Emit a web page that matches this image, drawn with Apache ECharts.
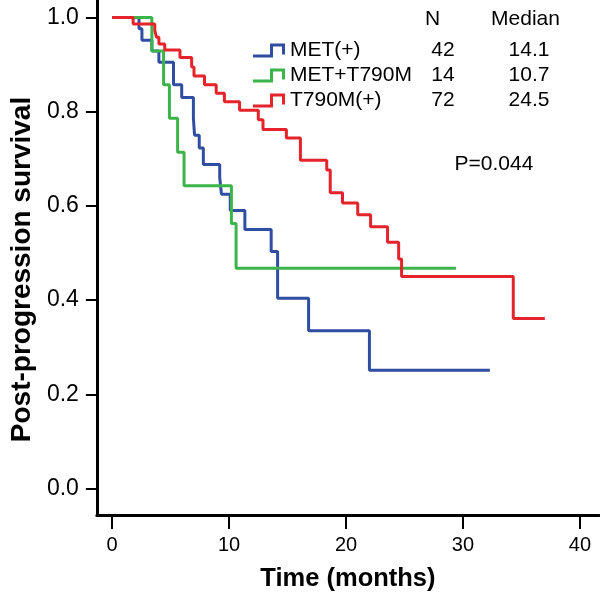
<!DOCTYPE html>
<html>
<head>
<meta charset="utf-8">
<script src="https://cdn.jsdelivr.net/npm/echarts@6/dist/echarts.min.js"></script>
<style>html,body{margin:0;padding:0;background:#fff}#c{width:600px;height:600px}</style>
</head>
<body>
<div id="c"></div>
<script>
// ---- data ----
const groupNames = ['MET(+)', 'MET+T790M', 'T790M(+)'];
const groupN = [42, 14, 72];
const groupMedian = ['14.1', '10.7', '24.5'];
const pValueText = 'P=0.044';

const blueT = [0, 2.3, 2.55, 3.4, 4.0, 5.25, 5.95, 6.95, 7.05, 7.45, 7.8, 9.2, 9.35, 10.1, 11.35, 13.6, 14.15, 16.8, 22.0, 32.3];
const blueS = [1, 0.976, 0.952, 0.929, 0.905, 0.857, 0.830, 0.786, 0.750, 0.723, 0.688, 0.660, 0.625, 0.590, 0.550, 0.503, 0.404, 0.335, 0.251, 0.251];

const greenT = [0, 3.4, 4.4, 4.9, 5.6, 6.15, 10.2, 10.6, 29.4];
const greenS = [1, 0.929, 0.857, 0.786, 0.714, 0.643, 0.5625, 0.4675, 0.4675];

const redT = [0, 1.8, 3.65, 3.8, 4.0, 4.5, 5.8, 6.8, 7.0, 7.9, 8.9, 9.6, 10.9, 12.5, 12.9, 14.9, 16.1, 18.35, 18.65, 19.7, 21.0, 22.1, 23.55, 24.5, 24.75, 34.3, 37.0];
const redS = [1, 0.986, 0.972, 0.958, 0.944, 0.931, 0.915, 0.895, 0.876, 0.857, 0.839, 0.821, 0.803, 0.783, 0.762, 0.744, 0.697, 0.676, 0.628, 0.606, 0.581, 0.556, 0.523, 0.487, 0.450, 0.361, 0.361];

const xTicks = [0, 10, 20, 30, 40];
const yTicks = [0, 0.2, 0.4, 0.6, 0.8, 1.0];

// ---- chart ----
const colors = ['#2f4ea2', '#3bb54a', '#e5232b'];
const FONT = 'Liberation Sans, Arial, sans-serif';
const zip = (t, s) => t.map((v, i) => [v, s[i]]);
const seriesData = [zip(blueT, blueS), zip(greenT, greenS), zip(redT, redS)];

const stepIcon = 'path://M0,11 L17,11 L17,0 L32,0 L32,11 L29,11 L29,3 L20,3 L20,14 L0,14 Z';
const rowCenters = [50.5, 75.5, 100.5];

const legends = groupNames.map((name, i) => ({
  data: [name],
  left: 253,
  top: rowCenters[i] - 12,
  orient: 'vertical',
  icon: stepIcon,
  itemWidth: 32,
  itemHeight: 14,
  padding: 0,
  itemStyle: { borderWidth: 0 },
  textStyle: { fontFamily: FONT, fontSize: 21, color: '#000', lineHeight: 24 },
  selectedMode: false
}));

const graphics = [];
graphics.push({ type: 'text', x: 432.5, y: 18.8, style: { text: 'N', font: '21px ' + FONT, fill: '#000', textAlign: 'center', textVerticalAlign: 'middle' } });
graphics.push({ type: 'text', x: 525.5, y: 18.8, style: { text: 'Median', font: '21px ' + FONT, fill: '#000', textAlign: 'center', textVerticalAlign: 'middle' } });
groupN.forEach((n, i) => {
  graphics.push({ type: 'text', x: 443, y: rowCenters[i], style: { text: String(n), font: '21px ' + FONT, fill: '#000', textAlign: 'center', textVerticalAlign: 'middle' } });
  graphics.push({ type: 'text', x: 529, y: rowCenters[i], style: { text: groupMedian[i], font: '21px ' + FONT, fill: '#000', textAlign: 'center', textVerticalAlign: 'middle' } });
});
graphics.push({ type: 'text', x: 494, y: 164, style: { text: pValueText, font: '21px ' + FONT, fill: '#000', textAlign: 'center', textVerticalAlign: 'middle' } });

const chart = echarts.init(document.getElementById('c'), null, { renderer: 'canvas' });
chart.setOption({
  animation: false,
  backgroundColor: '#fff',
  legend: legends,
  graphic: graphics,
  grid: { left: 95, right: 1, top: 0, bottom: 85, containLabel: false },
  xAxis: {
    type: 'value',
    min: -1.303, max: 41.63,
    splitLine: { show: false },
    axisLine: { show: true, onZero: false, lineStyle: { color: '#000', width: 3 } },
    axisTick: { show: true, length: 14, lineStyle: { color: '#000', width: 2 }, customValues: xTicks },
    axisLabel: { customValues: xTicks, margin: 20, fontFamily: FONT, fontSize: 20, color: '#000', formatter: v => String(v) },
    name: 'Time (months)',
    nameLocation: 'middle',
    nameGap: 51,
    nameTextStyle: { fontFamily: FONT, fontSize: 25.5, fontWeight: 'bold', color: '#000' }
  },
  yAxis: {
    type: 'value',
    min: -0.0563, max: 1.0372,
    splitLine: { show: false },
    axisLine: { show: true, onZero: false, lineStyle: { color: '#000', width: 3 } },
    axisTick: { show: true, length: 11, lineStyle: { color: '#000', width: 2 }, customValues: yTicks },
    axisLabel: { customValues: yTicks, margin: 18, fontFamily: FONT, fontSize: 23, color: '#000', formatter: v => v.toFixed(1) },
    name: 'Post-progression survival',
    nameLocation: 'middle',
    nameGap: 58,
    nameTextStyle: { fontFamily: FONT, fontSize: 28, fontWeight: 'bold', color: '#000', padding: [0, 24, 0, 0] }
  },
  series: groupNames.map((name, i) => ({
    name: name,
    type: 'line',
    step: 'end',
    data: seriesData[i],
    showSymbol: false,
    symbol: 'none',
    color: colors[i],
    itemStyle: { color: colors[i] },
    lineStyle: { color: colors[i], width: 3 },
    z: 2 + i
  }))
});
</script>
</body>
</html>
